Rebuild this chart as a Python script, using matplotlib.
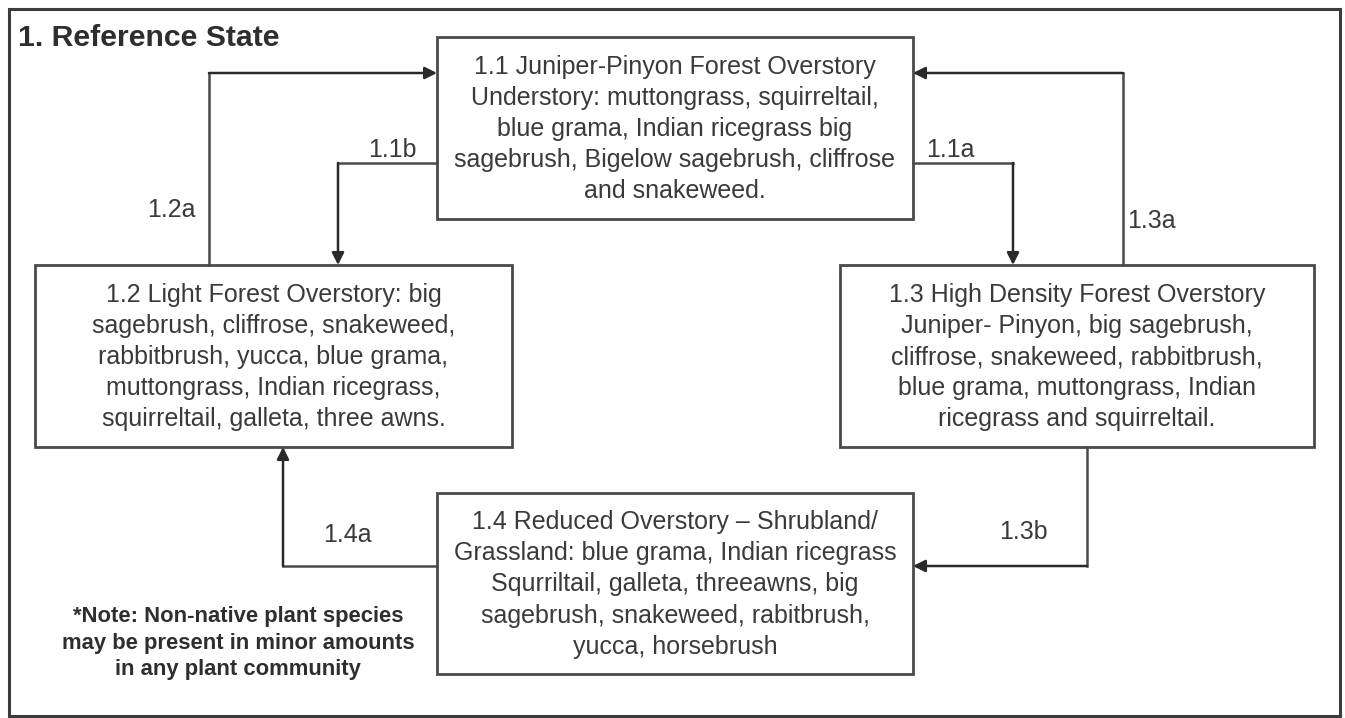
import matplotlib.pyplot as plt
from matplotlib.patches import Rectangle

plt.rcParams['font.family'] = ['Liberation Sans', 'DejaVu Sans']

# text content of the diagram
title = "1. Reference State"
box_ids = ["1.1", "1.2", "1.3", "1.4"]
box_texts = [
    "1.1 Juniper-Pinyon Forest Overstory\nUnderstory: muttongrass, squirreltail,\nblue grama, Indian ricegrass big\nsagebrush, Bigelow sagebrush, cliffrose\nand snakeweed.",
    "1.2 Light Forest Overstory: big\nsagebrush, cliffrose, snakeweed,\nrabbitbrush, yucca, blue grama,\nmuttongrass, Indian ricegrass,\nsquirreltail, galleta, three awns.",
    "1.3 High Density Forest Overstory\nJuniper- Pinyon, big sagebrush,\ncliffrose, snakeweed, rabbitbrush,\nblue grama, muttongrass, Indian\nricegrass and squirreltail.",
    "1.4 Reduced Overstory \u2013 Shrubland/\nGrassland: blue grama, Indian ricegrass\nSqurriltail, galleta, threeawns, big\nsagebrush, snakeweed, rabitbrush,\nyucca, horsebrush",
]
transition_labels = ["1.2a", "1.1b", "1.1a", "1.3a", "1.3b", "1.4a"]
note = "*Note: Non-native plant species\nmay be present in minor amounts\nin any plant community"

# layout (pixel coords, y downward)
box_xy = {"1.1": (437, 37, 913, 219), "1.2": (35, 265, 512, 447),
          "1.3": (840, 265, 1314, 447), "1.4": (437, 493, 913, 674)}
paths = [
    [(209, 265), (209, 73), (437, 73)],
    [(437, 163), (338, 163), (338, 265)],
    [(913, 163), (1013, 163), (1013, 265)],
    [(1123, 265), (1123, 73), (913, 73)],
    [(1087, 447), (1087, 566), (913, 566)],
    [(437, 566), (283, 566), (283, 447)],
]
label_pos = [(171, 210), (392, 150), (950, 150), (1151, 221), (1023, 532), (347, 535)]

W, H = 1345, 718
fig = plt.figure(figsize=(W / 100, H / 100), dpi=100)
ax = fig.add_axes([0, 0, 1, 1])
ax.set_xlim(0, W)
ax.set_ylim(H, 0)
ax.axis('off')

line_col = '#4a4a4a'
text_col = '#3a3a3a'

# outer frame
ax.add_patch(Rectangle((9, 9), 1331, 707, fill=False, ec='#3c3c3c', lw=2.2))
ax.text(18, 38, title, fontsize=21.8, fontweight='bold', color='#2e2e2e',
        ha='left', va='center')

for bid, txt in zip(box_ids, box_texts):
    x0, y0, x1, y1 = box_xy[bid]
    ax.add_patch(Rectangle((x0, y0), x1 - x0, y1 - y0, fill=False,
                           ec=line_col, lw=2))
    ax.text((x0 + x1) / 2, (y0 + y1) / 2 + 1, txt, fontsize=18,
            color=text_col, ha='center', va='center', linespacing=1.38)

for pts in paths:
    xs = [p[0] for p in pts]
    ys = [p[1] for p in pts]
    ax.plot(xs[:-1], ys[:-1], color=line_col, lw=1.8, solid_joinstyle='miter',
            solid_capstyle='projecting')
    ax.annotate('', xy=pts[-1], xytext=pts[-2],
                arrowprops=dict(arrowstyle='-|>', color='#2a2a2a', lw=1.8,
                                mutation_scale=18, shrinkA=0, shrinkB=0))

for lab, (x, y) in zip(transition_labels, label_pos):
    ax.text(x, y, lab, fontsize=18, color=text_col, ha='center', va='center')

ax.text(238, 643, note, fontsize=15.8, fontweight='bold', color='#2e2e2e',
        ha='center', va='center', linespacing=1.33)

fig.savefig('out.png', dpi=100)
